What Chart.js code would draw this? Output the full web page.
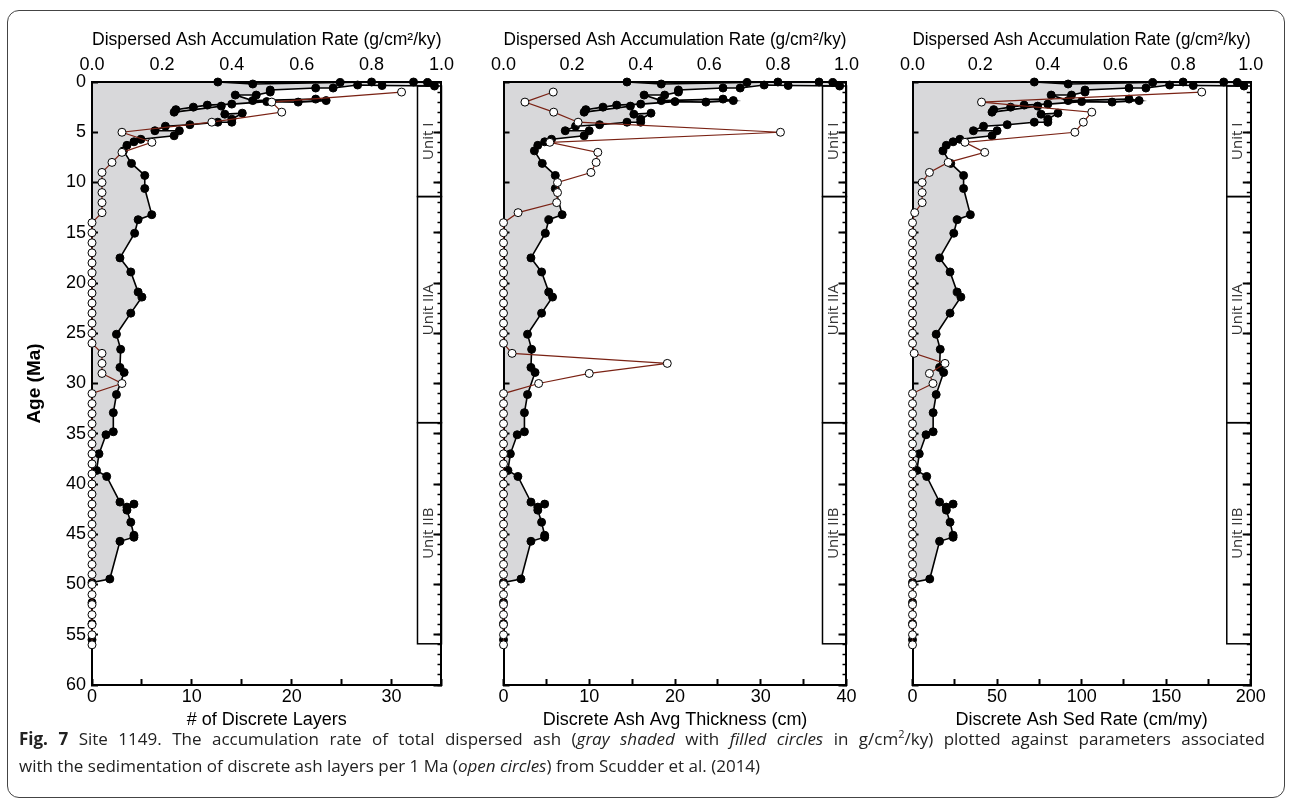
<!DOCTYPE html>
<html>
<head>
<meta charset="utf-8">
<title>Site 1149 dispersed ash</title>
<script src="https://cdn.jsdelivr.net/npm/chart.js"></script>
<style>
    body {
        margin: 0;
        width: 1292px;
        height: 803px;
        position: relative;
        overflow: hidden;
        background: #fff;
    }
    .frame {
        position: absolute;
        left: 7px;
        top: 10px;
        width: 1276px;
        height: 786px;
        border: 1.5px solid #444;
        border-radius: 12px;
    }
    canvas {
        position: absolute;
        top: 20px;
    }
    .caption {
        position: absolute;
        left: 19px;
        top: 725px;
        width: 1246px;
        font-family: "Open Sans", sans-serif;
        font-size: 17px;
        line-height: 27px;
        color: #222;
        white-space: nowrap;
    }
    .caption .first {
        text-align: justify;
        text-align-last: justify;
    }
    .caption sup {
        font-size: 11px;
        line-height: 0;
    }
</style>
</head>
<body>
<div class="frame"></div>
<canvas id="layersChart" width="445" height="715" style="left: 15px;"></canvas>
<canvas id="thicknessChart" width="380" height="715" style="left: 485px;"></canvas>
<canvas id="sedRateChart" width="379" height="715" style="left: 894px;"></canvas>
<div class="caption">
    <div class="first"><b>Fig. 7</b> Site 1149. The accumulation rate of total dispersed ash (<i>gray shaded</i> with <i>filled circles</i> in g/cm<sup>2</sup>/ky) plotted against parameters associated</div>
    <div>with the sedimentation of discrete ash layers per 1 Ma (<i>open circles</i>) from Scudder et al. (2014)</div>
</div>

<script>
// dispersed ash accumulation rate (g/cm2/ky), in sample order
const ashAge = [
    0.0, 0.2, 0.05, 0.0, 0.0, 0.05, 0.4, 0.35, 0.3, 0.6, 0.6, 0.8, 1.0, 1.3, 1.3,
    1.85, 1.7, 1.85, 2.0, 1.95, 2.2, 2.3, 2.5, 2.75, 3.0, 2.4, 3.2, 3.1, 3.7, 4.0,
    4.0, 4.25, 4.4, 4.85, 4.85, 5.35, 5.7, 5.95, 6.3, 6.85, 8.1, 9.3, 10.6, 13.2, 13.7,
    15.05, 17.5, 18.9, 20.9, 21.4, 23.0, 25.1, 26.6, 28.4, 28.9, 31.1, 32.9, 34.8, 35.1, 37.0,
    38.65, 39.25, 41.8, 42.3, 42.0, 42.6, 43.8, 45.1, 45.3, 45.7, 49.45, 49.8, 51.8, 53.9, 55.5
];
const ashRate = [
    0.36, 0.46, 0.71, 0.80, 0.92, 0.96, 0.98, 0.83, 0.76, 0.69, 0.64, 0.51, 0.51, 0.47, 0.41,
    0.46, 0.64, 0.67, 0.59, 0.50, 0.40, 0.33, 0.29, 0.24, 0.235, 0.37, 0.38, 0.43, 0.40, 0.40,
    0.36, 0.28, 0.21, 0.18, 0.25, 0.235, 0.14, 0.12, 0.10, 0.09, 0.113, 0.151, 0.151, 0.171, 0.132,
    0.122, 0.08, 0.111, 0.132, 0.143, 0.111, 0.07, 0.082, 0.08, 0.092, 0.07, 0.061, 0.061, 0.04, 0.02,
    0.013, 0.042, 0.08, 0.10, 0.12, 0.10, 0.111, 0.12, 0.12, 0.08, 0.051, 0.0, 0.0, 0.0, 0.0
];

// discrete ash layers, 1 Ma bins (Scudder et al. 2014)
const binAge = [
    1, 2, 3, 4, 5, 6, 7, 8, 9, 10, 11, 12, 13, 14, 15, 16, 17, 18, 19, 20,
    21, 22, 23, 24, 25, 26, 27, 28, 29, 30, 31, 32, 33, 34, 35, 36, 37, 38, 39, 40,
    41, 42, 43, 44, 45, 46, 47, 48, 49, 50, 51, 52, 53, 54, 55, 56
];
const discreteLayers = [
    31, 18, 19, 12, 3, 6, 3, 2, 1, 1, 1, 1, 1, 0, 0, 0, 0, 0, 0, 0,
    0, 0, 0, 0, 0, 0, 1, 1, 1, 3, 0, 0, 0, 0, 0, 0, 0, 0, 0, 0,
    0, 0, 0, 0, 0, 0, 0, 0, 0, 0, 0, 0, 0, 0, 0, 0
];
const ashThickness = [
    5.8, 2.5, 5.85, 8.7, 32.3, 5.4, 11.0, 10.8, 10.2, 6.3, 6.3, 6.2, 1.7, 0, 0, 0, 0, 0, 0, 0,
    0, 0, 0, 0, 0, 0, 1.0, 19.1, 10.0, 4.1, 0, 0, 0, 0, 0, 0, 0, 0, 0, 0,
    0, 0, 0, 0, 0, 0, 0, 0, 0, 0, 0, 0, 0, 0, 0, 0
];
const ashSedRate = [
    171, 40.8, 106, 101, 96, 31, 42.7, 21.1, 10, 5.7, 5.7, 5.7, 1.3, 0, 0, 0, 0, 0, 0, 0,
    0, 0, 0, 0, 0, 0, 1.0, 19.2, 10.0, 12.1, 0, 0, 0, 0, 0, 0, 0, 0, 0, 0,
    0, 0, 0, 0, 0, 0, 0, 0, 0, 0, 0, 0, 0, 0, 0, 0
];

// lithologic units (Ma)
const unitNames = ['Unit I', 'Unit IIA', 'Unit IIB'];
const unitTop = [0.4, 11.4, 33.9];
const unitBase = [11.4, 33.9, 55.9];

const rateTitle = 'Dispersed Ash Accumulation Rate (g/cm²/ky)';

Chart.defaults.font.family = '"Liberation Sans", Arial, sans-serif';
Chart.defaults.color = '#000';

// unit column along the right side of each panel
const unitColumn = {
    id: 'unitColumn',
    afterDatasetsDraw(chart) {
        const { ctx, chartArea } = chart;
        const yScale = chart.scales.y;
        const right = chartArea.right;
        const left = right - 24;
        ctx.save();
        ctx.strokeStyle = '#000';
        ctx.lineWidth = 1.5;
        ctx.fillStyle = '#333';
        ctx.font = '15px "Open Sans", sans-serif';
        ctx.textAlign = 'center';
        ctx.textBaseline = 'middle';
        unitNames.forEach((name, i) => {
            const top = yScale.getPixelForValue(unitTop[i]);
            const base = yScale.getPixelForValue(unitBase[i]);
            ctx.strokeRect(left, top, right - left, base - top);
            ctx.save();
            ctx.translate((left + right) / 2 - 1, (top + base) / 2);
            ctx.rotate(-Math.PI / 2);
            ctx.fillText(name, 0, 0);
            ctx.restore();
        });
        ctx.restore();
    }
};

/**
 * Builds one panel: dispersed ash (filled, top axis) against one discrete-layer parameter (open, bottom axis).
 */
function makePanel(canvasId, cfg) {
    const ctx = document.getElementById(canvasId).getContext('2d');
    const ashPoints = ashAge.map((age, i) => ({ x: ashRate[i], y: age }));
    const binPoints = binAge.map((age, i) => ({ x: cfg.values[i], y: age }));

    return new Chart(ctx, {
        type: 'line',
        data: {
            datasets: [{
                label: cfg.title,
                data: binPoints,
                xAxisID: 'x',
                yAxisID: 'y',
                borderColor: '#7a2214',
                borderWidth: 1.2,
                pointRadius: 4,
                pointBackgroundColor: '#fff',
                pointBorderColor: '#000',
                pointBorderWidth: 1,
                fill: false,
                clip: false
            }, {
                label: 'Dispersed ash',
                data: ashPoints,
                xAxisID: 'x2',
                yAxisID: 'y',
                borderColor: '#000',
                borderWidth: 1.6,
                backgroundColor: '#d8d8da',
                pointRadius: 4,
                pointBackgroundColor: '#000',
                pointBorderColor: '#000',
                pointBorderWidth: 1,
                fill: 'origin',
                clip: false
            }]
        },
        options: {
            responsive: false,
            animation: false,
            events: [],
            indexAxis: 'y',
            layout: { padding: { left: 0, right: 16, top: 0, bottom: 0 } },
            scales: {
                y: {
                    type: 'linear',
                    position: 'left',
                    reverse: true,
                    min: 0,
                    max: 60,
                    ticks: { stepSize: 5, autoSkip: false, padding: 12, display: cfg.showAge, font: { size: 18 } },
                    grid: { drawOnChartArea: false, tickLength: -6, tickWidth: 2, tickColor: '#000' },
                    border: { color: '#000', width: 2 },
                    title: {
                        display: cfg.showAge,
                        text: 'Age (Ma)',
                        font: { size: 19, weight: 'bold' },
                        padding: { top: 8.6, bottom: 0 }
                    },
                    afterFit: scale => { scale.width = cfg.leftWidth; }
                },
                y2: {
                    type: 'linear',
                    position: 'right',
                    reverse: true,
                    min: 0,
                    max: 60,
                    ticks: { display: false, stepSize: 1, autoSkip: false },
                    grid: { drawOnChartArea: false, tickLength: -4, tickWidth: 1.5, tickColor: '#000' },
                    border: { color: '#000', width: 2 },
                    afterFit: scale => { scale.width = 0; }
                },
                y3: {
                    type: 'linear',
                    position: 'right',
                    reverse: true,
                    min: 0,
                    max: 60,
                    ticks: { display: false, stepSize: 5, autoSkip: false },
                    grid: { drawOnChartArea: false, tickLength: -8, tickWidth: 2, tickColor: '#000' },
                    border: { color: '#000', width: 2 },
                    afterFit: scale => { scale.width = 0; }
                },
                x: {
                    type: 'linear',
                    position: 'bottom',
                    min: 0,
                    max: cfg.max,
                    ticks: {
                        stepSize: cfg.step,
                        autoSkip: false,
                        maxRotation: 0,
                        padding: 7.2,
                        font: { size: 18 },
                        callback: value => (value % cfg.labelStep === 0 ? value : '')
                    },
                    grid: { drawOnChartArea: false, tickLength: -6, tickWidth: 2, tickColor: '#000' },
                    border: { color: '#000', width: 2 },
                    title: { display: true, text: cfg.title, font: { size: 18 }, padding: { top: 0, bottom: 4.2 } },
                    afterFit: scale => { scale.height = 50; }
                },
                x2: {
                    type: 'linear',
                    position: 'top',
                    min: 0,
                    max: 1,
                    ticks: {
                        stepSize: 0.2,
                        autoSkip: false,
                        maxRotation: 0,
                        padding: 6,
                        font: { size: 18 },
                        callback: value => value.toFixed(1)
                    },
                    grid: { drawOnChartArea: false, drawTicks: false },
                    border: { color: '#000', width: 2 },
                    title: { display: true, text: rateTitle, font: { size: 18 }, padding: { top: 9.2, bottom: 0 } },
                    afterFit: scale => { scale.height = 62; }
                }
            },
            plugins: {
                legend: { display: false },
                tooltip: { enabled: false },
                filler: { drawTime: 'beforeDraw' }
            }
        },
        plugins: [unitColumn]
    });
}

makePanel('layersChart', {
    values: discreteLayers, title: '# of Discrete Layers',
    max: 35, step: 5, labelStep: 10, showAge: true, leftWidth: 77
});
makePanel('thicknessChart', {
    values: ashThickness, title: 'Discrete Ash Avg Thickness (cm)',
    max: 40, step: 5, labelStep: 10, showAge: false, leftWidth: 16
});
makePanel('sedRateChart', {
    values: ashSedRate, title: 'Discrete Ash Sed Rate (cm/my)',
    max: 200, step: 25, labelStep: 50, showAge: false, leftWidth: 16
});
</script>
</body>
</html>
